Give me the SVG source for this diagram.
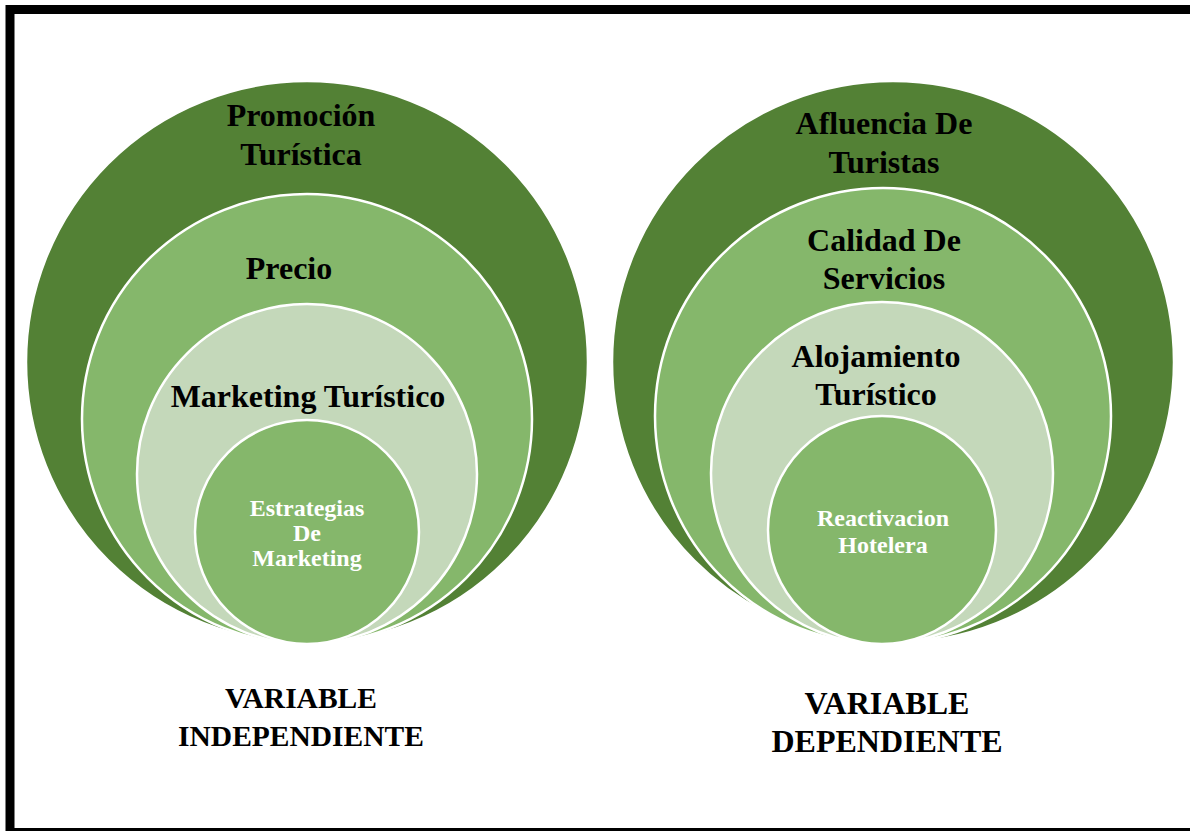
<svg xmlns="http://www.w3.org/2000/svg" width="1190" height="831" viewBox="0 0 1190 831">
  <style>
    .dark { fill: #538135; stroke: #ffffff; stroke-width: 2.5; }
    .mid { fill: #85B76B; stroke: #ffffff; stroke-width: 2.5; }
    .pale { fill: #C4D8BA; stroke: #ffffff; stroke-width: 2.5; }
    .lbl { font-family: "Liberation Serif", "Times New Roman", serif; font-weight: bold; text-anchor: middle; fill: #000000; font-size: 32px; }
    .inner { font-family: "Liberation Serif", "Times New Roman", serif; font-weight: bold; text-anchor: middle; fill: #ffffff; font-size: 24px; }
    .var-l { font-family: "Liberation Serif", "Times New Roman", serif; font-weight: bold; text-anchor: middle; fill: #000000; font-size: 29.5px; }
    .var-r { font-family: "Liberation Serif", "Times New Roman", serif; font-weight: bold; text-anchor: middle; fill: #000000; font-size: 32px; }
  </style>
  <rect x="0" y="0" width="1190" height="831" fill="#ffffff"/>
  <!-- frame -->
  <rect x="10" y="9.5" width="1200" height="823" fill="none" stroke="#000000" stroke-width="9"/>

  <!-- independent variable stack -->
  <g id="promocion-turistica">
    <circle class="dark" cx="307" cy="362" r="281"/>
    <text class="lbl" x="301" y="126">Promoción</text>
    <text class="lbl" x="301" y="165">Turística</text>
  </g>
  <g id="precio">
    <circle class="mid" cx="307" cy="419" r="225"/>
    <text class="lbl" x="289" y="279">Precio</text>
  </g>
  <g id="marketing-turistico">
    <circle class="pale" cx="307" cy="474" r="170"/>
    <text class="lbl" x="308" y="407">Marketing Turístico</text>
  </g>
  <g id="estrategias-de-marketing">
    <circle class="mid" cx="307" cy="532" r="112"/>
    <text class="inner" x="307" y="516">Estrategias</text>
    <text class="inner" x="307" y="541">De</text>
    <text class="inner" x="307" y="566">Marketing</text>
  </g>

  <!-- dependent variable stack -->
  <g id="afluencia-de-turistas">
    <circle class="dark" cx="893" cy="362" r="281"/>
    <text class="lbl" x="884" y="134">Afluencia De</text>
    <text class="lbl" x="884" y="173">Turistas</text>
  </g>
  <g id="calidad-de-servicios">
    <circle class="mid" cx="883" cy="416" r="228"/>
    <text class="lbl" x="884" y="251">Calidad De</text>
    <text class="lbl" x="884" y="289">Servicios</text>
  </g>
  <g id="alojamiento-turistico">
    <circle class="pale" cx="882" cy="473" r="171"/>
    <text class="lbl" x="876" y="367">Alojamiento</text>
    <text class="lbl" x="876" y="405">Turístico</text>
  </g>
  <g id="reactivacion-hotelera">
    <circle class="mid" cx="882" cy="530" r="114"/>
    <text class="inner" x="883" y="526">Reactivacion</text>
    <text class="inner" x="883" y="553">Hotelera</text>
  </g>

  <g id="connectors"/>

  <!-- captions -->
  <g id="variable-independiente">
    <text class="var-l" x="301" y="708">VARIABLE</text>
    <text class="var-l" x="301" y="746">INDEPENDIENTE</text>
  </g>
  <g id="variable-dependiente">
    <text class="var-r" x="887" y="714">VARIABLE</text>
    <text class="var-r" x="887" y="752">DEPENDIENTE</text>
  </g>
</svg>
